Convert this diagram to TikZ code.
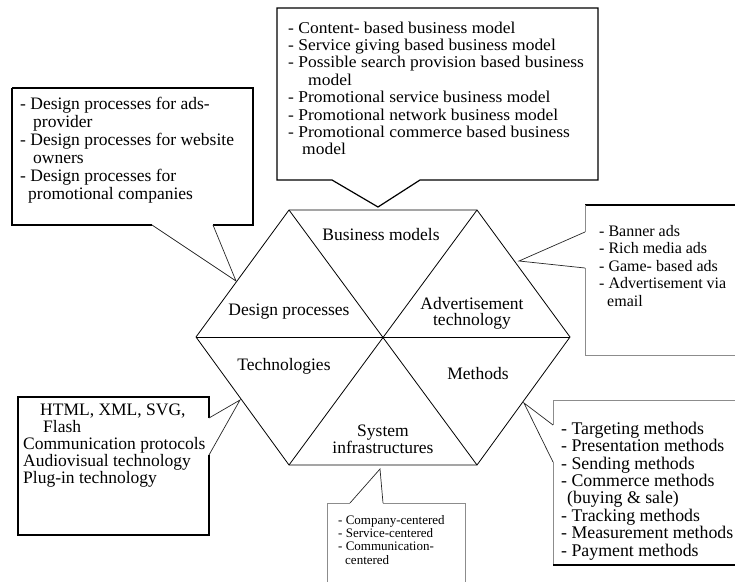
\documentclass[tikz,border=0pt]{standalone}
\usepackage{fontspec}
\setmainfont{Liberation Serif}
\newfontfamily\wideserif[FakeStretch=1.06]{Liberation Serif}
\begin{document}
\begin{tikzpicture}[x=1pt,y=-1pt,
  hexline/.style={line width=0.8pt},
  callout/.style={line width=1.2pt, draw=black},
  softedge/.style={line width=1pt, draw=black!45},
  pointer/.style={line width=0.7pt, draw=black!85},
  boxtext/.style={align=left, inner sep=0pt, anchor=base west},
  hexlabel/.style={font=\fontsize{17.5}{16}\selectfont, align=center, inner sep=0pt}]
\useasboundingbox (0,0) rectangle (735,581);
\clip (0,0) rectangle (735,581);

% hexagon corners and centre
\coordinate (L)  at (196,337);
\coordinate (TL) at (289,210);
\coordinate (TR) at (477,210);
\coordinate (R)  at (570,337);
\coordinate (BR) at (477,465);
\coordinate (BL) at (289,465);
\coordinate (C)  at (383,337);

% hexagon outline and the three lines through the centre
\draw[hexline] (L) -- (TL) -- (TR) -- (R) -- (BR) -- (BL) -- cycle;
\draw[hexline] (L) -- (R);
\draw[hexline] (TL) -- (BR);
\draw[hexline] (TR) -- (BL);

% sector labels
\node[hexlabel] (bm)  at (381,235) {Business models};
\node[hexlabel] (dp)  at (289,312) {Design processes};
\node[hexlabel] (at)  at (472,313) {Advertisement\\technology};
\node[hexlabel] (tec) at (284,366) {Technologies};
\node[hexlabel] (met) at (478,374) {Methods};
\node[hexlabel] (si)  at (383,439) {System\\infrastructures};

% callout: business models (text placed by the baseline of its last line)
\coordinate (bmtip) at (378,207);
\draw[callout] (277,8) -- (598,8) -- (598,180) -- (420,180) -- (bmtip) -- (332,180) -- (277,180) -- cycle;
\node[boxtext, font=\wideserif\fontsize{16.5}{17.4}\selectfont] (bmlist) at (288,154.8) {- Content- based business model\\
- Service giving based business model\\
- Possible search provision based business\\
\hspace*{20pt}model\\
- Promotional service business model\\
- Promotional network business model\\
- Promotional commerce based business\\
\hspace*{14pt}model};

% callout: design processes
\coordinate (dptip) at (236,281);
\draw[callout] (12,88) -- (253,88) -- (253,225) -- (213,225);
\draw[callout] (152,225) -- (12,225) -- (12,88);
\draw[pointer] (213,225) -- (dptip) -- (152,225);
\node[boxtext, font=\fontsize{17.5}{18}\selectfont] (dplist) at (20,199) {- Design processes for ads-\\
\hspace*{13pt}provider\\
- Design processes for website\\
\hspace*{13pt}owners\\
- Design processes for\\
\hspace*{8pt}promotional companies};

% callout: advertisement technology
\coordinate (attip) at (519,261);
\draw[callout] (585,205) -- (740,205);
\draw[softedge] (585,205) -- (585,232);
\draw[softedge] (585,268) -- (585,355) -- (740,355);
\draw[pointer] (585,232) -- (attip) -- (585,268);
\node[boxtext, font=\fontsize{16}{17.4}\selectfont] (atlist) at (599,306) {- Banner ads\\
- Rich media ads\\
- Game- based ads\\
- Advertisement via\\
\hspace*{8pt}email};

% callout: methods
\coordinate (mettip) at (524,403);
\draw[softedge] (740,400) -- (553,400) -- (553,425);
\draw[softedge] (553,462) -- (553,565);
\draw[callout] (553,565) -- (740,565);
\draw[pointer] (553,425) -- (mettip) -- (553,462);
\node[boxtext, font=\fontsize{17.8}{17.4}\selectfont] (metlist) at (561,556) {- Targeting methods\\
- Presentation methods\\
- Sending methods\\
- Commerce methods\\
\hspace*{6pt}(buying \& sale)\\
- Tracking methods\\
- Measurement methods\\
- Payment methods};

% callout: technologies
\coordinate (tectip) at (240,400);
\draw[callout] (209,418) -- (209,397) -- (18,397) -- (18,535) -- (209,535) -- (209,455);
\draw[pointer] (209,418) -- (tectip) -- (209,455);
\node[boxtext, font=\fontsize{17.5}{16.8}\selectfont] (teclist) at (23,483) {\hspace*{17pt}HTML, XML, SVG,\\
\hspace*{20pt}Flash\\
Communication protocols\\
Audiovisual technology\\
Plug-in technology};

% callout: system infrastructures
\coordinate (sitip) at (380,469);
\draw[softedge] (327,590) -- (327,503) -- (350,503);
\draw[softedge] (383,503) -- (465,503) -- (465,590);
\draw[pointer] (350,503) -- (sitip) -- (383,503);
\node[boxtext, font=\fontsize{13}{13.3}\selectfont] (silist) at (338,564) {- Company-centered\\
- Service-centered\\
- Communication-\\
\hspace*{7pt}centered};

\end{tikzpicture}
\end{document}
